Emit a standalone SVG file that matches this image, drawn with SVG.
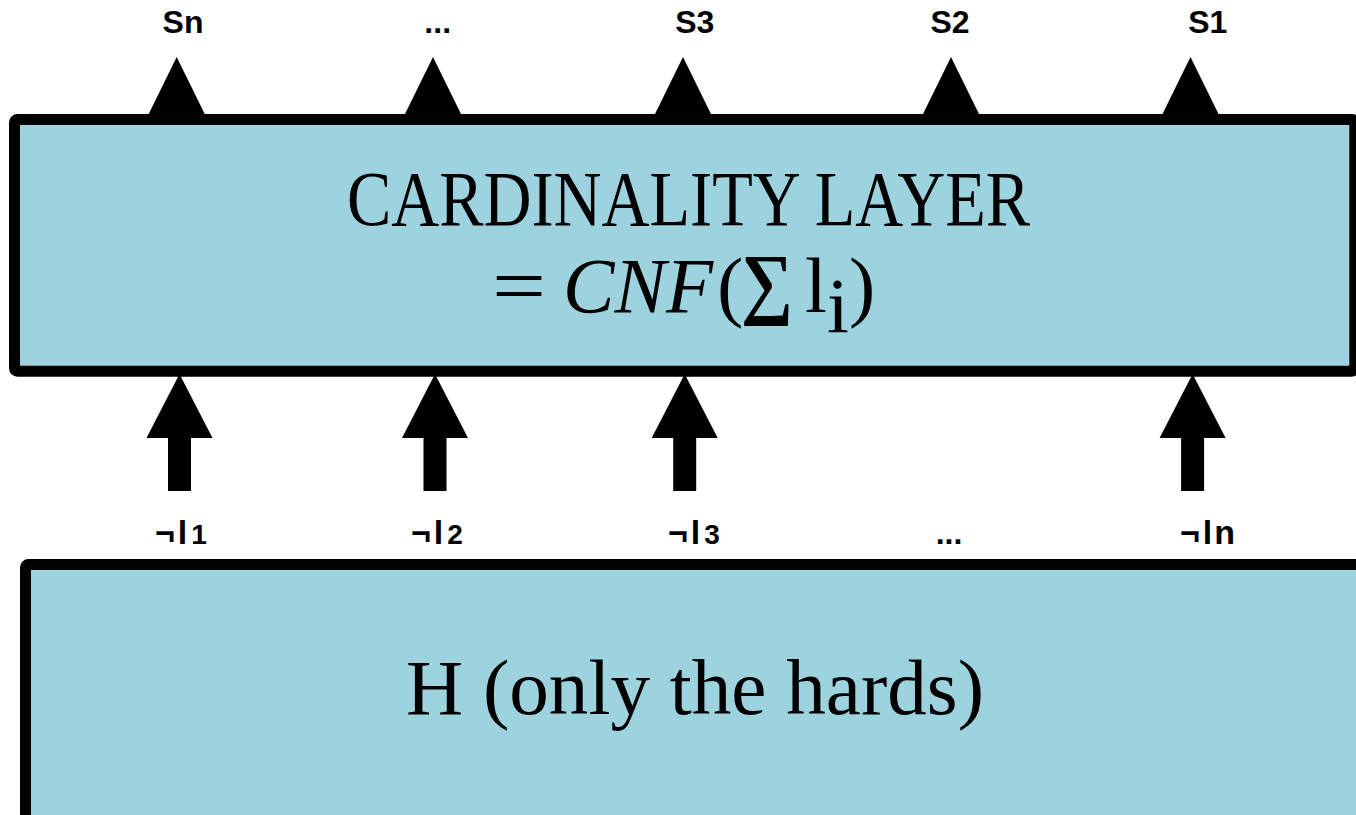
<svg xmlns="http://www.w3.org/2000/svg" width="1356" height="815" viewBox="0 0 1356 815">
  <style>
    .box { fill: #9cd3df; stroke: #000; stroke-width: 11; }
    .big { font-family: "Liberation Serif", "DejaVu Serif", serif; font-size: 79px; fill: #000; }
    .lbl { font-family: "Liberation Sans", Arial, sans-serif; font-weight: bold; font-size: 32px; fill: #000; }
    .in { font-size: 34px; }
    .sub { font-size: 28px; }
    .arrow { fill: #000; stroke: none; }
  </style>
  <rect width="1356" height="815" fill="#fff"/>

  <g id="cardinality-layer">
    <rect class="box" x="14.5" y="119.5" width="1340.3" height="251.7" rx="3"/>
    <text class="big" x="347" y="225" textLength="683" lengthAdjust="spacingAndGlyphs">CARDINALITY LAYER</text>
    <text class="big" x="492" y="312" font-family="DejaVu Serif, serif" textLength="54" lengthAdjust="spacingAndGlyphs">=</text>
    <text class="big" x="563" y="312" font-style="italic" textLength="150" lengthAdjust="spacingAndGlyphs">CNF</text>
    <text class="big" x="717" y="312">(</text>
    <text class="big" x="741" y="309" font-family="DejaVu Serif, serif" font-weight="bold" font-size="96" textLength="52" lengthAdjust="spacingAndGlyphs">∑</text>
    <text class="big" x="805" y="312">l</text>
    <text class="big" x="827" y="331.7" font-size="70">i</text>
    <text class="big" x="849" y="312">)</text>
  </g>

  <g id="hards">
    <rect class="box" x="25.5" y="564.5" width="1340" height="260" rx="3"/>
    <text class="big" x="406" y="714" textLength="578" lengthAdjust="spacingAndGlyphs">H (only the hards)</text>
  </g>

  <g id="connectors">
    <polygon class="arrow" points="176.7,57 205.7,116 147.7,116"/>
    <polygon class="arrow" points="433,57 462,116 404,116"/>
    <polygon class="arrow" points="683,57 712,116 654,116"/>
    <polygon class="arrow" points="951,57 980,116 922,116"/>
    <polygon class="arrow" points="1190.5,57 1219.5,116 1161.5,116"/>

    <polygon class="arrow" points="179.5,374 212.5,438 191,438 191,491 168,491 168,438 146.5,438"/>
    <polygon class="arrow" points="435,374 468,438 446.5,438 446.5,491 423.5,491 423.5,438 402,438"/>
    <polygon class="arrow" points="684.7,374 717.7,438 696.2,438 696.2,491 673.2,491 673.2,438 651.7,438"/>
    <polygon class="arrow" points="1192.6,374 1225.6,438 1204.1,438 1204.1,491 1181.1,491 1181.1,438 1159.6,438"/>
  </g>

  <g id="output-labels">
    <text class="lbl" x="183" y="33" text-anchor="middle">Sn</text>
    <text class="lbl" x="437.7" y="33" text-anchor="middle" font-size="36">...</text>
    <text class="lbl" x="694.8" y="33" text-anchor="middle">S3</text>
    <text class="lbl" x="950" y="33" text-anchor="middle">S2</text>
    <text class="lbl" x="1207.8" y="33" text-anchor="middle">S1</text>
  </g>

  <g id="input-labels">
    <text class="lbl in" x="155" y="544">¬<tspan dx="3">l</tspan><tspan class="sub" dx="4">1</tspan></text>
    <text class="lbl in" x="411" y="544">¬<tspan dx="3">l</tspan><tspan class="sub" dx="4">2</tspan></text>
    <text class="lbl in" x="668" y="544">¬<tspan dx="3">l</tspan><tspan class="sub" dx="4">3</tspan></text>
    <text class="lbl" x="949" y="544" text-anchor="middle" font-size="36">...</text>
    <text class="lbl in" x="1180" y="544">¬<tspan dx="3">l</tspan><tspan dx="2">n</tspan></text>
  </g>
</svg>
